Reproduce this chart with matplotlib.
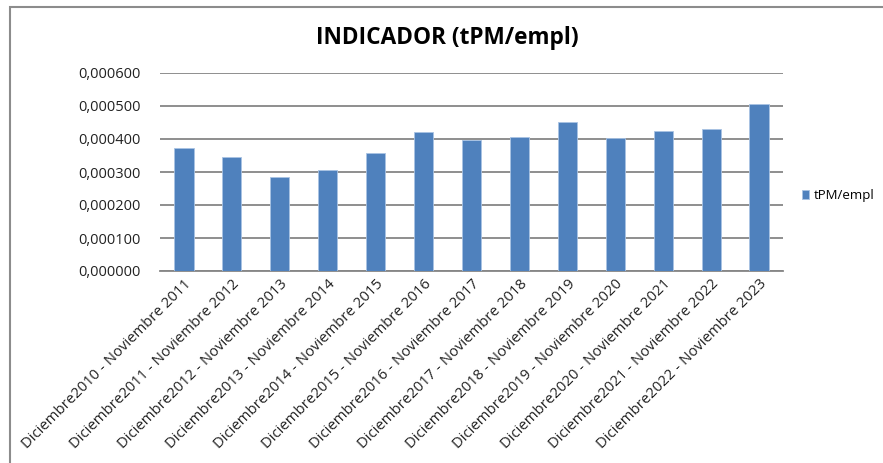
import matplotlib
matplotlib.use("Agg")
import matplotlib.pyplot as plt
from matplotlib.patches import Rectangle
from matplotlib.ticker import FuncFormatter

periodos = ["Diciembre2010 - Noviembre 2011", "Diciembre2011 - Noviembre 2012",
            "Diciembre2012 - Noviembre 2013", "Diciembre2013 - Noviembre 2014",
            "Diciembre2014 - Noviembre 2015", "Diciembre2015 - Noviembre 2016",
            "Diciembre2016 - Noviembre 2017", "Diciembre2017 - Noviembre 2018",
            "Diciembre2018 - Noviembre 2019", "Diciembre2019 - Noviembre 2020",
            "Diciembre2020 - Noviembre 2021", "Diciembre2021 - Noviembre 2022",
            "Diciembre2022 - Noviembre 2023"]
tpm_empl = [0.000373, 0.000345, 0.000285, 0.000307, 0.000357, 0.000422, 0.000398,
            0.000407, 0.000453, 0.000402, 0.000424, 0.000429, 0.000505]
y_ticks = [0.0, 0.0001, 0.0002, 0.0003, 0.0004, 0.0005, 0.0006]

plt.rcParams['font.family'] = ['Open Sans', 'DejaVu Sans']

fig = plt.figure(figsize=(8.83, 4.63), dpi=100)
W, H = 883, 463

# outer chart border (cut off right and bottom in the screenshot)
fig.patches.append(Rectangle((10 / W, -0.1), 1.2, 1 - 7 / H + 0.1,
                             transform=fig.transFigure, fill=False,
                             edgecolor='#8c8c8c', linewidth=1.5))

ax = fig.add_axes([160 / W, 1 - 271 / H, 623 / W, 198 / H])
x = range(len(periodos))
ax.bar(x, tpm_empl, width=0.4, color='#4f81bd', edgecolor='#a9c3e3',
       linewidth=0.6, label='tPM/empl', zorder=3)

ax.set_xlim(-0.5, len(periodos) - 0.5)
ax.set_ylim(0, 0.0006)
ax.set_yticks(y_ticks)
ax.yaxis.set_major_formatter(FuncFormatter(lambda v, p: f"{v:.6f}".replace('.', ',')))
ax.grid(axis='y', color='#868686', linewidth=1.3, zorder=0)
for s in ['top', 'right', 'left']:
    ax.spines[s].set_visible(False)
ax.spines['bottom'].set_color('#868686')
ax.spines['bottom'].set_linewidth(1.3)
ax.tick_params(axis='y', length=0, labelsize=10.5, pad=14, colors='#222222')
ax.tick_params(axis='x', length=0, labelsize=10.7, pad=4, colors='#222222')
ax.set_xticks(list(x))
ax.set_xticklabels(periodos, rotation=45, ha='right', rotation_mode='anchor')

fig.text(0.5 + 6 / W, 1 - 38 / H, 'INDICADOR (tPM/empl)', ha='center', va='center',
         fontsize=16.3, fontweight='bold')

ax.legend(loc='center left', bbox_to_anchor=(1.015, 0.38), frameon=False,
          fontsize=9.5, handlelength=0.6, handleheight=0.6, handletextpad=0.3,
          borderaxespad=0.3)

fig.savefig('out.png', dpi=100)
